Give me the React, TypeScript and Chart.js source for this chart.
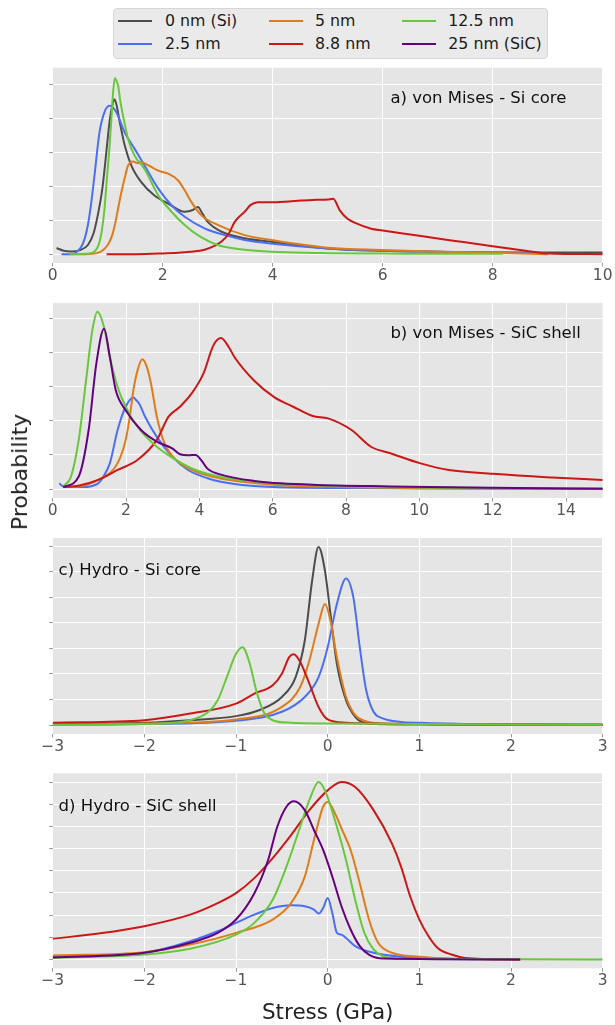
import React, { useEffect, useRef } from 'react';
import { Chart, registerables } from 'chart.js';

Chart.register(...registerables);

const FONT_FAMILY = '"DejaVu Sans", Verdana, sans-serif';

// ---- Series names and colours ----
const SERIES_NAMES = ['0 nm (Si)', '2.5 nm', '5 nm', '8.8 nm', '12.5 nm', '25 nm (SiC)'];
const SERIES_COLORS = ['#4d4d4d', '#4a6ff5', '#e07b1a', '#cc1717', '#66c83a', '#660080'];

// ---- Panel a: von Mises - Si core (stress in GPa, probability arb. units) ----
const A_X_0 = [0.07, 0.2, 0.34, 0.5, 0.64, 0.74, 0.82, 0.9, 0.95, 1.0, 1.04, 1.08, 1.12, 1.16, 1.22, 1.31, 1.43, 1.61, 1.85, 2.1, 2.4, 2.55, 2.64, 2.72, 2.82, 3.07, 3.49, 4.0, 5.0, 6.0, 7.0, 8.0, 10.0];
const A_Y_0 = [0.18, 0.1, 0.08, 0.12, 0.27, 0.6, 1.15, 1.9, 2.61, 3.4, 3.98, 4.35, 4.56, 4.4, 3.88, 3.2, 2.61, 2.12, 1.73, 1.49, 1.25, 1.3, 1.39, 1.2, 0.95, 0.66, 0.47, 0.36, 0.17, 0.1, 0.07, 0.05, 0.05];
const A_X_25 = [0.16, 0.3, 0.42, 0.52, 0.58, 0.64, 0.7, 0.76, 0.85, 0.95, 1.04, 1.16, 1.31, 1.49, 1.67, 1.92, 2.16, 2.4, 2.76, 3.13, 3.49, 4.0, 5.0, 6.0, 7.0, 8.0, 9.0];
const A_Y_25 = [0, 0, 0.05, 0.22, 0.45, 0.86, 1.5, 2.32, 3.58, 4.22, 4.37, 4.17, 3.58, 3.1, 2.61, 1.93, 1.44, 1.1, 0.76, 0.56, 0.42, 0.31, 0.17, 0.1, 0.07, 0.05, 0.03];
const A_X_5 = [0.3, 0.6, 0.8, 0.9, 1.0, 1.07, 1.13, 1.19, 1.25, 1.31, 1.37, 1.46, 1.55, 1.61, 1.7, 1.8, 1.95, 2.1, 2.28, 2.4, 2.52, 2.7, 3.0, 3.49, 4.0, 5.0, 6.0, 7.0, 8.0, 9.0];
const A_Y_5 = [0, 0, 0.03, 0.1, 0.27, 0.5, 0.86, 1.35, 1.83, 2.25, 2.61, 2.73, 2.68, 2.72, 2.65, 2.56, 2.44, 2.37, 2.17, 1.88, 1.54, 1.15, 0.86, 0.56, 0.41, 0.19, 0.12, 0.07, 0.04, 0.0];
const A_X_88 = [0.98, 1.5, 2.0, 2.28, 2.5, 2.76, 2.95, 3.07, 3.2, 3.31, 3.49, 3.6, 3.73, 4.0, 4.3, 4.5, 4.8, 5.0, 5.1, 5.22, 5.36, 5.5, 5.79, 6.0, 6.5, 7.0, 7.5, 8.0, 8.5, 9.0, 10.0];
const A_Y_88 = [0, 0, 0.02, 0.04, 0.07, 0.13, 0.25, 0.37, 0.6, 0.95, 1.25, 1.45, 1.53, 1.53, 1.55, 1.58, 1.6, 1.61, 1.63, 1.29, 1.04, 0.92, 0.75, 0.7, 0.58, 0.46, 0.35, 0.23, 0.12, 0.02, 0];
const A_X_125 = [0.3, 0.6, 0.76, 0.84, 0.89, 0.94, 0.98, 1.03, 1.07, 1.1, 1.13, 1.16, 1.19, 1.23, 1.28, 1.37, 1.49, 1.67, 1.92, 2.16, 2.4, 2.64, 3.0, 3.49, 4.0, 5.0, 6.0, 7.0, 8.19];
const A_Y_125 = [0, 0.01, 0.08, 0.3, 0.66, 1.3, 2.12, 3.1, 4.07, 4.8, 5.19, 5.1, 4.95, 4.5, 4.07, 3.39, 2.9, 2.51, 1.73, 1.25, 0.86, 0.56, 0.27, 0.13, 0.07, 0.03, 0.02, 0.01, 0.01];

// ---- Panel b: von Mises - SiC shell ----
const B_X_25 = [0.18, 0.25, 0.35, 0.8, 1.24, 1.4, 1.56, 1.77, 1.99, 2.2, 2.28, 2.36, 2.52, 2.84, 3.26, 3.69, 4.22, 4.96, 6.03, 8.0, 10.0, 15.0];
const B_Y_25 = [0.17, 0.1, 0.06, 0.06, 0.17, 0.4, 0.76, 1.73, 2.41, 2.68, 2.6, 2.5, 2.12, 1.53, 0.95, 0.56, 0.32, 0.15, 0.06, 0.03, 0.02, 0.0];
const B_X_5 = [0.29, 0.7, 1.24, 1.77, 1.99, 2.1, 2.2, 2.32, 2.44, 2.56, 2.68, 2.84, 3.05, 3.37, 3.9, 4.54, 6.03, 8.0, 10.0, 15.0];
const B_Y_5 = [0.06, 0.08, 0.27, 0.76, 1.44, 2.1, 2.89, 3.5, 3.8, 3.6, 3.09, 2.12, 1.34, 0.85, 0.51, 0.32, 0.13, 0.06, 0.03, 0.01];
const B_X_88 = [0.29, 0.7, 1.24, 1.77, 2.31, 2.84, 3.16, 3.47, 3.79, 4.11, 4.38, 4.59, 4.8, 4.96, 5.49, 6.03, 6.56, 7.09, 7.51, 8.15, 8.68, 9.21, 10.01, 10.81, 12.01, 13.46, 15.0];
const B_Y_88 = [0.06, 0.1, 0.27, 0.56, 0.85, 1.44, 2.12, 2.41, 2.8, 3.38, 4.2, 4.42, 4.16, 3.86, 3.18, 2.7, 2.41, 2.14, 2.07, 1.73, 1.24, 1.05, 0.76, 0.56, 0.45, 0.35, 0.27];
const B_X_125 = [0.29, 0.5, 0.71, 0.92, 1.08, 1.22, 1.4, 1.56, 1.77, 1.99, 2.31, 2.84, 3.37, 3.9, 4.54, 6.03, 8.15, 10.0, 15.0];
const B_Y_125 = [0.08, 0.37, 1.44, 3.28, 4.64, 5.19, 4.74, 3.86, 2.99, 2.41, 1.83, 1.24, 0.85, 0.56, 0.37, 0.17, 0.08, 0.05, 0.02];
const B_X_SIC = [0.29, 0.71, 0.98, 1.19, 1.4, 1.56, 1.72, 1.99, 2.41, 2.84, 3.26, 3.47, 3.7, 3.9, 4.05, 4.22, 4.54, 5.49, 7.09, 9.21, 12.0, 15.0];
const B_Y_SIC = [0.06, 0.37, 1.73, 3.67, 4.69, 3.86, 2.89, 2.31, 1.73, 1.39, 1.19, 1.02, 0.99, 1.0, 0.85, 0.6, 0.44, 0.24, 0.13, 0.08, 0.04, 0.01];

// ---- Panel c: Hydro - Si core ----
const C_X_0 = [-3, -2, -1.5, -1, -0.75, -0.5, -0.35, -0.25, -0.17, -0.1, -0.03, 0.03, 0.1, 0.2, 0.3, 0.4, 0.6, 1, 3];
const C_Y_0 = [0.04, 0.09, 0.19, 0.35, 0.58, 1.1, 1.88, 3.31, 5.65, 6.97, 6.04, 4.35, 2.4, 0.97, 0.32, 0.09, 0.03, 0.02, 0.01];
const C_X_25 = [-3, -2, -1, -0.5, -0.25, -0.1, 0, 0.1, 0.2, 0.28, 0.35, 0.42, 0.5, 0.6, 0.8, 1, 1.5, 3];
const C_Y_25 = [0.01, 0.04, 0.17, 0.52, 1.1, 1.88, 3.05, 4.74, 5.74, 5.0, 3.05, 1.36, 0.52, 0.26, 0.12, 0.09, 0.04, 0.01];
const C_X_5 = [-3, -2, -1, -0.5, -0.3, -0.2, -0.1, -0.03, 0.03, 0.1, 0.2, 0.3, 0.4, 0.6, 1, 3];
const C_Y_5 = [0.01, 0.06, 0.22, 0.71, 1.49, 2.53, 3.96, 4.74, 4.09, 2.66, 1.1, 0.39, 0.17, 0.06, 0.03, 0.0];
const C_X_88 = [-3, -2, -1.5, -1, -0.8, -0.6, -0.5, -0.42, -0.37, -0.3, -0.2, -0.1, 0, 0.2, 0.5, 3];
const C_Y_88 = [0.09, 0.19, 0.45, 0.84, 1.23, 1.56, 2.01, 2.66, 2.77, 2.47, 1.62, 0.71, 0.22, 0.09, 0.06, 0.01];
const C_X_125 = [-3, -2, -1.5, -1.3, -1.2, -1.1, -1.0, -0.93, -0.85, -0.78, -0.7, -0.6, -0.4, 0, 3];
const C_Y_125 = [0.01, 0.04, 0.19, 0.52, 0.97, 1.88, 2.79, 3.05, 2.4, 1.36, 0.52, 0.19, 0.09, 0.06, 0.01];

// ---- Panel d: Hydro - SiC shell ----
const D_X_25 = [-3, -2, -1.5, -1.2, -1, -0.8, -0.6, -0.4, -0.25, -0.15, -0.1, -0.05, 0, 0.05, 0.1, 0.15, 0.2, 0.3, 0.5, 0.8, 1.2, 2.1];
const D_Y_25 = [0.12, 0.3, 0.82, 1.27, 1.65, 2.02, 2.32, 2.44, 2.4, 2.25, 2.07, 2.32, 2.77, 2.1, 1.2, 1.12, 0.97, 0.6, 0.3, 0.12, 0.03, 0];
const D_X_5 = [-3, -2, -1.5, -1, -0.6, -0.4, -0.25, -0.15, -0.05, 0, 0.08, 0.15, 0.25, 0.35, 0.45, 0.55, 0.7, 1.0, 1.4, 2.1];
const D_Y_5 = [0.18, 0.33, 0.67, 1.2, 1.8, 2.54, 3.74, 5.39, 6.89, 7.11, 6.59, 5.91, 4.94, 3.44, 1.8, 0.75, 0.3, 0.12, 0.03, 0];
const D_X_88 = [-3, -2.5, -2, -1.5, -1.2, -1, -0.8, -0.6, -0.4, -0.2, 0, 0.15, 0.3, 0.5, 0.7, 0.8, 0.9, 1.0, 1.1, 1.2, 1.35, 1.5, 2.1];
const D_Y_88 = [0.93, 1.17, 1.5, 2.02, 2.54, 2.99, 3.67, 4.57, 5.61, 6.74, 7.63, 8.01, 7.78, 6.74, 5.24, 4.19, 2.84, 1.8, 1.05, 0.52, 0.22, 0.07, 0];
const D_X_125 = [-3, -2, -1.5, -1, -0.8, -0.6, -0.45, -0.3, -0.2, -0.1, -0.03, 0.1, 0.2, 0.3, 0.4, 0.5, 0.6, 0.8, 3];
const D_Y_125 = [0.07, 0.22, 0.48, 1.12, 1.65, 2.69, 4.19, 5.99, 7.19, 8.01, 7.63, 5.99, 4.49, 2.69, 1.2, 0.45, 0.15, 0.03, 0];
const D_X_SIC = [-3, -2, -1.5, -1.2, -1, -0.8, -0.65, -0.55, -0.45, -0.37, -0.25, -0.15, -0.05, 0.05, 0.15, 0.25, 0.35, 0.45, 0.6, 2.1];
const D_Y_SIC = [0.09, 0.3, 0.75, 1.2, 1.8, 2.99, 4.49, 5.99, 6.89, 7.14, 6.74, 5.84, 4.94, 3.74, 2.4, 1.35, 0.6, 0.22, 0.04, 0];

// ---- Axis tick settings ----
const X_TICKS_A = { min: 0, max: 10, step: 2 };
const X_TICKS_B = { min: 0, max: 15, step: 2 };
const X_TICKS_CD = { min: -3, max: 3, step: 1 };

const PANEL_LABELS = ['a) von Mises - Si core', 'b) von Mises - SiC shell', 'c) Hydro - Si core', 'd) Hydro - SiC shell'];

type SeriesSpec = [number[], number[], number];

const PANELS: {
  top: number; xt: { min: number; max: number; step: number }; yMin: number; yMax: number;
  label: string; lx: number; ly: number; series: SeriesSpec[]; xTitle?: string;
}[] = [
  {
    top: 67.7, xt: X_TICKS_A, yMin: -0.26, yMax: 5.49, label: PANEL_LABELS[0], lx: 0.614, ly: 0.157,
    series: [[A_X_0, A_Y_0, 0], [A_X_25, A_Y_25, 1], [A_X_5, A_Y_5, 2], [A_X_88, A_Y_88, 3], [A_X_125, A_Y_125, 4]],
  },
  {
    top: 302.9, xt: X_TICKS_B, yMin: -0.26, yMax: 5.45, label: PANEL_LABELS[1], lx: 0.614, ly: 0.158,
    series: [[B_X_25, B_Y_25, 1], [B_X_5, B_Y_5, 2], [B_X_88, B_Y_88, 3], [B_X_125, B_Y_125, 4], [B_X_SIC, B_Y_SIC, 5]],
  },
  {
    top: 538.1, xt: X_TICKS_CD, yMin: -0.35, yMax: 7.32, label: PANEL_LABELS[2], lx: 0.0107, ly: 0.168,
    series: [[C_X_0, C_Y_0, 0], [C_X_25, C_Y_25, 1], [C_X_5, C_Y_5, 2], [C_X_88, C_Y_88, 3], [C_X_125, C_Y_125, 4]],
  },
  {
    top: 773.3, xt: X_TICKS_CD, yMin: -0.4, yMax: 8.4, label: PANEL_LABELS[3], lx: 0.0107, ly: 0.169,
    series: [[D_X_25, D_Y_25, 1], [D_X_5, D_Y_5, 2], [D_X_88, D_Y_88, 3], [D_X_125, D_Y_125, 4], [D_X_SIC, D_Y_SIC, 5]],
    xTitle: 'Stress (GPa)',
  },
];

const PLOT_LEFT = 52.7;
const PLOT_RIGHT = 602.7;
const PLOT_H = 195;
const FIG_W = 615;
const FIG_H = 1025;

const bgPlugin = {
  id: 'panelBg',
  beforeDraw(chart: any) {
    const { ctx, chartArea } = chart;
    ctx.save();
    ctx.fillStyle = '#e5e5e5';
    ctx.fillRect(chartArea.left, chartArea.top, chartArea.right - chartArea.left, chartArea.bottom - chartArea.top);
    ctx.restore();
  },
};

function fmtTick(v: any) {
  const n = Math.round(Number(v) * 1000) / 1000;
  return String(n).replace('-', '\u2212');
}

function Panel({ cfg }: { cfg: (typeof PANELS)[number] }) {
  const ref = useRef<HTMLCanvasElement | null>(null);
  const canvasTop = Math.floor(cfg.top) - 10;
  const padTop = cfg.top - canvasTop;
  const xAxisH = cfg.xTitle ? FIG_H - (cfg.top + PLOT_H) : 35;
  const canvasH = Math.ceil(padTop + PLOT_H + xAxisH);

  useEffect(() => {
    if (!ref.current) return;
    const labelPlugin = {
      id: 'panelLabel',
      afterDatasetsDraw(chart: any) {
        const { ctx, chartArea } = chart;
        ctx.save();
        ctx.font = `16.5px ${FONT_FAMILY}`;
        ctx.fillStyle = '#111111';
        ctx.textBaseline = 'middle';
        ctx.textAlign = 'left';
        const x = chartArea.left + cfg.lx * (chartArea.right - chartArea.left);
        const y = chartArea.top + cfg.ly * (chartArea.bottom - chartArea.top);
        ctx.fillText(cfg.label, x, y);
        ctx.restore();
      },
    };
    const datasets = cfg.series.map(([xs, ys, idx]) => ({
      label: SERIES_NAMES[idx],
      data: xs.map((x, i) => ({ x, y: ys[i] })),
      borderColor: SERIES_COLORS[idx],
      backgroundColor: SERIES_COLORS[idx],
      borderWidth: 2,
      pointRadius: 0,
      fill: false,
      cubicInterpolationMode: 'monotone' as const,
      order: -idx,
    }));
    const chart = new Chart(ref.current, {
      type: 'line',
      data: { datasets },
      options: {
        responsive: false,
        animation: false,
        devicePixelRatio: 1,
        layout: { padding: { left: PLOT_LEFT, right: FIG_W - PLOT_RIGHT, top: padTop, bottom: 0 } },
        plugins: { legend: { display: false }, tooltip: { enabled: false }, title: { display: false } },
        scales: {
          x: {
            type: 'linear',
            min: cfg.xt.min,
            max: cfg.xt.max,
            ticks: {
              stepSize: cfg.xt.step,
              includeBounds: false,
              autoSkip: false,
              maxRotation: 0,
              padding: 0,
              color: '#555555',
              font: { family: FONT_FAMILY, size: 15.5 },
              callback: (v: any) => fmtTick(v),
            },
            grid: { color: '#ffffff', lineWidth: 1, tickLength: 3.5, tickColor: '#9a9a9a', drawTicks: true },
            border: { display: false },
            title: cfg.xTitle
              ? { display: true, text: cfg.xTitle, color: '#222222', font: { family: FONT_FAMILY, size: 21.5, lineHeight: 1.1 }, padding: 0 }
              : { display: false },
            afterFit: (s: any) => {
              s.height = xAxisH;
              s.paddingLeft = 0;
              s.paddingRight = 0;
            },
          } as any,
          y: {
            type: 'linear',
            min: cfg.yMin,
            max: cfg.yMax,
            ticks: { display: false, stepSize: 1, includeBounds: false },
            grid: { color: '#ffffff', lineWidth: 1, tickLength: 3.5, tickColor: '#9a9a9a', drawTicks: true },
            border: { display: false },
            afterFit: (s: any) => {
              s.width = 0;
              s.paddingTop = 0;
              s.paddingBottom = 0;
            },
          } as any,
        },
      },
      plugins: [bgPlugin, labelPlugin],
    });
    return () => chart.destroy();
  }, []);

  return (
    <canvas
      ref={ref}
      width={FIG_W}
      height={canvasH}
      style={{ position: 'absolute', left: 0, top: canvasTop, width: FIG_W, height: canvasH }}
    />
  );
}

const LEGEND_COL_LINE = [5, 155.7, 288.4];
const LEGEND_COL_TEXT = [51.7, 201.7, 335];
const LEGEND_ROW_Y = [12.4, 36];

function Legend() {
  return (
    <div
      style={{
        position: 'absolute', left: 113.3, top: 8.3, width: 435, height: 50.7,
        background: '#eaeaea', border: '1px solid #d6d6d6', borderRadius: 4, boxSizing: 'border-box',
        fontFamily: FONT_FAMILY, fontSize: 15.8, color: '#1a1a1a',
      }}
    >
      {SERIES_NAMES.map((name, i) => {
        const col = Math.floor(i / 2);
        const row = i % 2;
        const cy = LEGEND_ROW_Y[row] - 1;
        return (
          <React.Fragment key={name}>
            <div style={{ position: 'absolute', left: LEGEND_COL_LINE[col] - 1, top: cy - 1, width: 34, height: 2, background: SERIES_COLORS[i] }} />
            <div style={{ position: 'absolute', left: LEGEND_COL_TEXT[col] - 1, top: cy - 10, height: 20, lineHeight: '20px', whiteSpace: 'nowrap' }}>{name}</div>
          </React.Fragment>
        );
      })}
    </div>
  );
}

export default function App() {
  return (
    <div style={{ position: 'absolute', left: 0, top: 0, width: FIG_W, height: FIG_H, background: '#ffffff', overflow: 'hidden' }}>
      <Legend />
      {PANELS.map((p) => (
        <Panel key={p.label} cfg={p} />
      ))}
      <div
        style={{
          position: 'absolute', left: 20, top: 472, transform: 'translate(-50%, -50%) rotate(-90deg)',
          fontFamily: FONT_FAMILY, fontSize: 22, color: '#222222', whiteSpace: 'nowrap', lineHeight: '26px',
        }}
      >
        Probability
      </div>
    </div>
  );
}
